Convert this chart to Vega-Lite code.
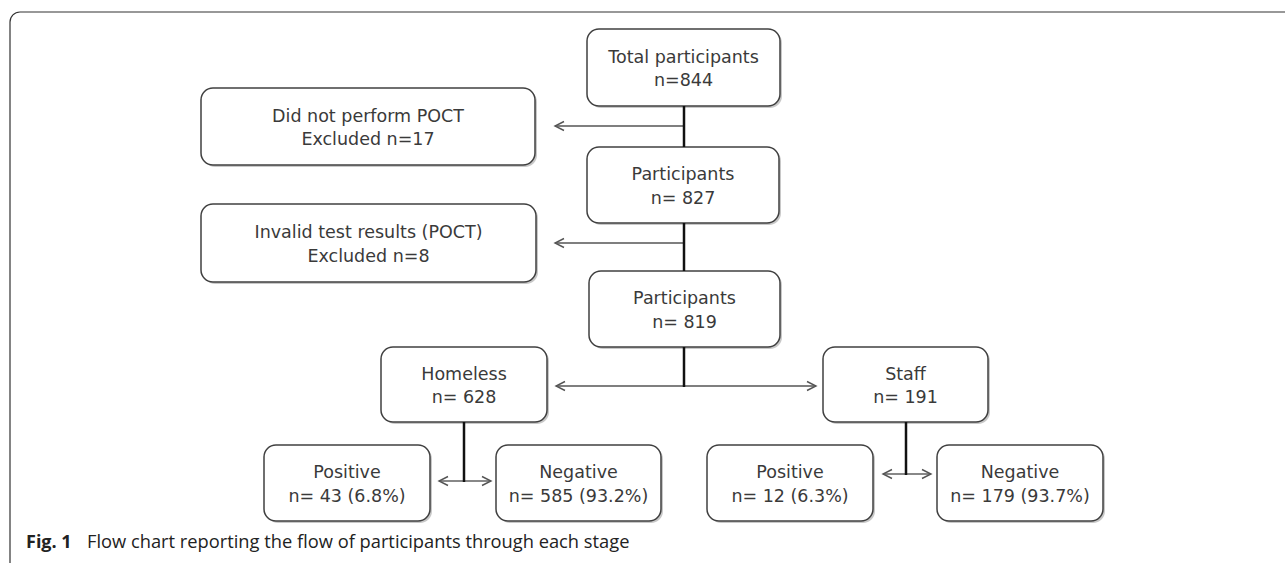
{
  "$schema": "https://vega.github.io/schema/vega-lite/v6.json",
  "width": 1285,
  "height": 563,
  "autosize": {"type": "none"},
  "padding": 0,
  "background": "white",
  "config": {"view": {"stroke": null}},
  "datasets": {
    "frame": [{"x1": 10, "x2": 1400, "y1": 12, "y2": 700}],
    "boxes": [
      {"x1": 587, "x2": 780, "y1": 29, "y2": 106, "cx": 683.5, "cy": 67.5, "label": "Total participants\nn=844"},
      {"x1": 201, "x2": 535, "y1": 88, "y2": 165, "cx": 368, "cy": 126.5, "label": "Did not perform POCT\nExcluded n=17"},
      {"x1": 587, "x2": 779, "y1": 147, "y2": 223, "cx": 683, "cy": 185, "label": "Participants\nn= 827"},
      {"x1": 201, "x2": 536, "y1": 204, "y2": 282, "cx": 368.5, "cy": 243, "label": "Invalid test results (POCT)\nExcluded n=8"},
      {"x1": 589, "x2": 780, "y1": 271, "y2": 347, "cx": 684.5, "cy": 309, "label": "Participants\nn= 819"},
      {"x1": 381, "x2": 547, "y1": 347, "y2": 422, "cx": 464, "cy": 384.5, "label": "Homeless\nn= 628"},
      {"x1": 823, "x2": 988, "y1": 347, "y2": 422, "cx": 905.5, "cy": 384.5, "label": "Staff\nn= 191"},
      {"x1": 264, "x2": 430, "y1": 445, "y2": 521, "cx": 347, "cy": 483, "label": "Positive\nn= 43 (6.8%)"},
      {"x1": 496, "x2": 661, "y1": 445, "y2": 521, "cx": 578.5, "cy": 483, "label": "Negative\nn= 585 (93.2%)"},
      {"x1": 707, "x2": 873, "y1": 445, "y2": 521, "cx": 790, "cy": 483, "label": "Positive\nn= 12 (6.3%)"},
      {"x1": 937, "x2": 1103, "y1": 445, "y2": 521, "cx": 1020, "cy": 483, "label": "Negative\nn= 179 (93.7%)"}
    ],
    "vlines": [
      {"x": 684, "y1": 106, "y2": 147},
      {"x": 684, "y1": 223, "y2": 271},
      {"x": 684, "y1": 347, "y2": 387},
      {"x": 464, "y1": 422, "y2": 482},
      {"x": 906, "y1": 422, "y2": 475}
    ],
    "arrows": [
      {"x1": 684, "x2": 555, "y": 126, "dir": "left"},
      {"x1": 684, "x2": 555, "y": 243, "dir": "left"},
      {"x1": 684, "x2": 556, "y": 386, "dir": "left"},
      {"x1": 684, "x2": 816, "y": 386, "dir": "right"},
      {"x1": 464, "x2": 439, "y": 481, "dir": "left"},
      {"x1": 464, "x2": 491, "y": 481, "dir": "right"},
      {"x1": 906, "x2": 883, "y": 474, "dir": "left"},
      {"x1": 906, "x2": 931, "y": 474, "dir": "right"}
    ],
    "caption": [
      {"x": 26, "y": 543, "bold": "Fig. 1", "text": "Flow chart reporting the flow of participants through each stage", "x2": 87}
    ]
  },
  "layer": [
    {
      "data": {"name": "frame"},
      "mark": {"type": "rect", "fill": null, "stroke": "#333333", "strokeWidth": 1.2, "cornerRadius": 10, "clip": true},
      "encoding": {
        "x": {"field": "x1", "type": "quantitative", "scale": {"domain": [0, 1285], "nice": false, "zero": false}, "axis": null},
        "x2": {"field": "x2"},
        "y": {"field": "y1", "type": "quantitative", "scale": {"domain": [0, 563], "nice": false, "zero": false, "reverse": true}, "axis": null},
        "y2": {"field": "y2"}
      }
    },
    {
      "data": {"name": "boxes"},
      "mark": {"type": "rect", "fill": "#9a9a9a", "opacity": 0.55, "cornerRadius": 12, "xOffset": 2, "x2Offset": 2, "yOffset": 2, "y2Offset": 2},
      "encoding": {
        "x": {"field": "x1", "type": "quantitative", "scale": {"domain": [0, 1285], "nice": false, "zero": false}, "axis": null},
        "x2": {"field": "x2"},
        "y": {"field": "y1", "type": "quantitative", "scale": {"domain": [0, 563], "nice": false, "zero": false, "reverse": true}, "axis": null},
        "y2": {"field": "y2"}
      }
    },
    {
      "data": {"name": "boxes"},
      "mark": {"type": "rect", "fill": "white", "stroke": "#404040", "strokeWidth": 1.5, "cornerRadius": 12},
      "encoding": {
        "x": {"field": "x1", "type": "quantitative", "scale": {"domain": [0, 1285], "nice": false, "zero": false}, "axis": null},
        "x2": {"field": "x2"},
        "y": {"field": "y1", "type": "quantitative", "scale": {"domain": [0, 563], "nice": false, "zero": false, "reverse": true}, "axis": null},
        "y2": {"field": "y2"}
      }
    },
    {
      "data": {"name": "boxes"},
      "mark": {"type": "text", "font": "DejaVu Sans", "fontSize": 17.5, "color": "#3a3a3a", "align": "center", "baseline": "middle", "lineBreak": "\n", "lineHeight": 23.5, "dy": -10},
      "encoding": {
        "x": {"field": "cx", "type": "quantitative", "scale": {"domain": [0, 1285], "nice": false, "zero": false}, "axis": null},
        "y": {"field": "cy", "type": "quantitative", "scale": {"domain": [0, 563], "nice": false, "zero": false, "reverse": true}, "axis": null},
        "text": {"field": "label"}
      }
    },
    {
      "data": {"name": "arrows"},
      "mark": {"type": "rule", "stroke": "#555555", "strokeWidth": 1.4},
      "encoding": {
        "x": {"field": "x1", "type": "quantitative", "scale": {"domain": [0, 1285], "nice": false, "zero": false}, "axis": null},
        "x2": {"field": "x2"},
        "y": {"field": "y", "type": "quantitative", "scale": {"domain": [0, 563], "nice": false, "zero": false, "reverse": true}, "axis": null}
      }
    },
    {
      "data": {"name": "arrows"},
      "mark": {"type": "point", "filled": false, "stroke": "#555555", "strokeWidth": 1.4, "size": 81, "opacity": 1},
      "encoding": {
        "x": {"field": "x2", "type": "quantitative", "scale": {"domain": [0, 1285], "nice": false, "zero": false}, "axis": null},
        "y": {"field": "y", "type": "quantitative", "scale": {"domain": [0, 563], "nice": false, "zero": false, "reverse": true}, "axis": null},
        "shape": {"field": "dir", "type": "nominal", "legend": null, "scale": {"domain": ["left", "right"], "range": ["M 2 -1 L 0 0 L 2 1", "M -2 -1 L 0 0 L -2 1"]}}
      }
    },
    {
      "data": {"name": "vlines"},
      "mark": {"type": "rule", "stroke": "#111111", "strokeWidth": 2.5},
      "encoding": {
        "x": {"field": "x", "type": "quantitative", "scale": {"domain": [0, 1285], "nice": false, "zero": false}, "axis": null},
        "y": {"field": "y1", "type": "quantitative", "scale": {"domain": [0, 563], "nice": false, "zero": false, "reverse": true}, "axis": null},
        "y2": {"field": "y2"}
      }
    },
    {
      "data": {"name": "caption"},
      "mark": {"type": "text", "font": "Open Sans", "fontSize": 18, "fontWeight": "bold", "color": "#222222", "align": "left", "baseline": "middle"},
      "encoding": {
        "x": {"field": "x", "type": "quantitative", "scale": {"domain": [0, 1285], "nice": false, "zero": false}, "axis": null},
        "y": {"field": "y", "type": "quantitative", "scale": {"domain": [0, 563], "nice": false, "zero": false, "reverse": true}, "axis": null},
        "text": {"field": "bold"}
      }
    },
    {
      "data": {"name": "caption"},
      "mark": {"type": "text", "font": "Open Sans", "fontSize": 18.3, "color": "#222222", "align": "left", "baseline": "middle"},
      "encoding": {
        "x": {"field": "x2", "type": "quantitative", "scale": {"domain": [0, 1285], "nice": false, "zero": false}, "axis": null},
        "y": {"field": "y", "type": "quantitative", "scale": {"domain": [0, 563], "nice": false, "zero": false, "reverse": true}, "axis": null},
        "text": {"field": "text"}
      }
    }
  ]
}
